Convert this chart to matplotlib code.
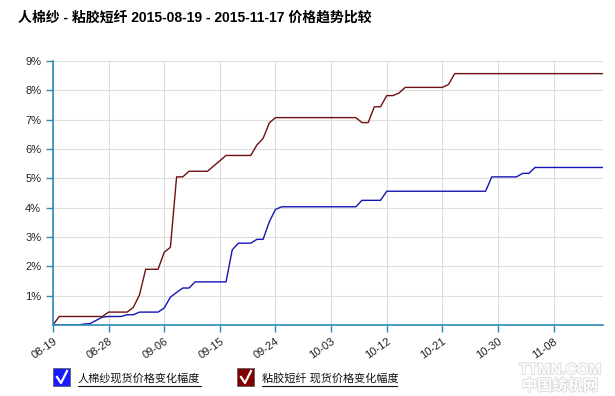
import matplotlib.pyplot as plt
import matplotlib.patheffects as pe
from matplotlib.lines import Line2D
from matplotlib.patches import Rectangle

plt.rcParams['font.family'] = ['Liberation Sans', 'Noto Sans CJK SC', 'DejaVu Sans']

# day offset from 2015-08-19, value in %
rayon_days = [0, 1, 8, 9, 12, 13, 14, 15, 17, 18, 19, 20, 21, 22, 25, 28, 32, 33, 34, 35, 36,
              49, 50, 51, 52, 53, 54, 55, 56, 57, 63, 64, 65, 89]
rayon_vals = [0, 0.29, 0.29, 0.44, 0.44, 0.6, 1.03, 1.9, 1.9, 2.48, 2.65, 5.05, 5.05, 5.24, 5.24, 5.78,
              5.78, 6.14, 6.36, 6.89, 7.07, 7.07, 6.9, 6.9, 7.44, 7.44, 7.82, 7.82, 7.91, 8.1, 8.1,
              8.2, 8.57, 8.57]

yarn_days = [0, 4, 5, 6, 8, 9, 11, 12, 13, 14, 17, 18, 19, 20, 21, 22, 23, 28, 29, 30, 32, 33, 34,
             35, 36, 37, 49, 50, 53, 54, 70, 71, 75, 76, 77, 78, 89]
yarn_vals = [0, 0, 0.03, 0.05, 0.27, 0.29, 0.29, 0.35, 0.35, 0.44, 0.44, 0.58, 0.95, 1.11, 1.26, 1.26,
             1.47, 1.47, 2.56, 2.79, 2.79, 2.92, 2.92, 3.52, 3.94, 4.03, 4.03, 4.25, 4.25, 4.56,
             4.56, 5.05, 5.05, 5.17, 5.17, 5.37, 5.37]

tick_days = [0, 9, 18, 27, 36, 45, 54, 63, 72, 81]
tick_labels = ['08-19', '08-28', '09-06', '09-15', '09-24', '10-03', '10-12', '10-21', '10-30', '11-08']
y_ticks = [1, 2, 3, 4, 5, 6, 7, 8, 9]

fig = plt.figure(figsize=(6.15, 3.96), dpi=100)
ax = fig.add_axes([53 / 615, 71 / 396, 550 / 615, 264 / 396])

axis_col = '#2b8cb3'
ax.plot(yarn_days, yarn_vals, color='#1414b4', lw=1.0)
ax.plot(rayon_days, rayon_vals, color='#6e1010', lw=1.0)

ax.set_xlim(0, 89)
ax.set_ylim(0, 9)
ax.set_xticks(tick_days)
ax.set_xticklabels(tick_labels, rotation=35, ha='right', rotation_mode='anchor', fontsize=8)
ax.set_yticks(y_ticks)
ax.set_yticklabels(['%d%%' % v for v in y_ticks], fontsize=8)
ax.grid(True, color='#dddddd', lw=0.8)
ax.set_axisbelow(True)
for s in ['top', 'right']:
    ax.spines[s].set_visible(False)
for s in ['left', 'bottom']:
    ax.spines[s].set_color(axis_col)
    ax.spines[s].set_linewidth(1.2)
ax.tick_params(axis='both', colors=axis_col, length=5, width=1, labelcolor='#222222')
ax.tick_params(axis='x', pad=3)

fig.text(18 / 615, 1 - 18 / 396, '人棉纱 - 粘胶短纤 2015-08-19 - 2015-11-17 价格趋势比较',
         fontsize=10, fontweight='bold', va='center', ha='left')

# legend
legend = [('#1a1aff', '人棉纱现货价格变化幅度', 53, 201),
          ('#800000', '粘胶短纤 现货价格变化幅度', 237, 397)]
for col, txt, x0, x1 in legend:
    fig.patches.append(Rectangle((x0 / 615, 1 - 386 / 396), 17 / 615, 18 / 396,
                                 transform=fig.transFigure, facecolor=col, edgecolor='#555555', lw=0.5))
    fig.lines.append(Line2D([(x0 + 4) / 615, (x0 + 8) / 615, (x0 + 14) / 615],
                            [1 - 377 / 396, 1 - 383 / 396, 1 - 371 / 396],
                            transform=fig.transFigure, color='white', lw=1.6))
    fig.text((x0 + 25) / 615, 1 - 378 / 396, txt, fontsize=8, va='center', ha='left', color='#111111')
    fig.lines.append(Line2D([(x0 + 25) / 615, x1 / 615], [1 - 386 / 396, 1 - 386 / 396],
                            transform=fig.transFigure, color='#111111', lw=0.8))

# watermark
wm = [pe.withStroke(linewidth=1.2, foreground='#d8d8d8')]
fig.text(560 / 615, 1 - 370 / 396, 'TTMN.COM', fontsize=11, fontweight='bold', color='white',
         ha='center', va='center', path_effects=wm)
fig.text(560 / 615, 1 - 386 / 396, '中国纺机网', fontsize=11, fontweight='bold', color='white',
         ha='center', va='center', path_effects=wm)

fig.savefig('out.png', dpi=100)
